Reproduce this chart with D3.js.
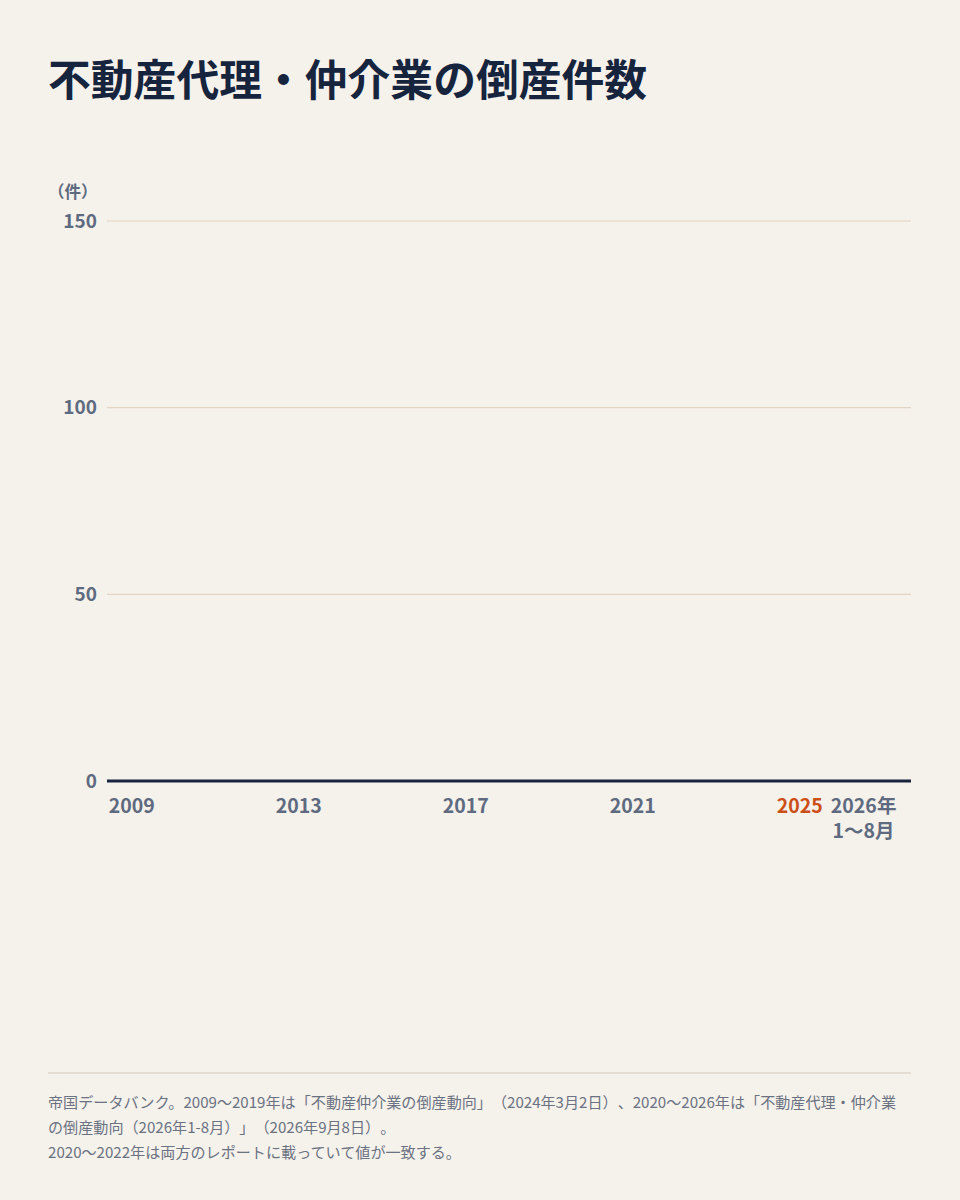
<!DOCTYPE html>
<html lang="ja">
<head>
<meta charset="utf-8">
<script src="https://cdn.jsdelivr.net/npm/d3@7"></script>
<style>
  html, body { margin: 0; padding: 0; background: #f5f1eb; }
  svg { display: block; text-spacing-trim: space-all; }
  text { font-family: "Noto Sans CJK JP", "Noto Sans", sans-serif; text-spacing-trim: space-all; }
</style>
</head>
<body>
<svg id="chart" width="960" height="1200"></svg>
<script>
// ---- data ----
const title = "不動産代理・仲介業の倒産件数";
const unitLabel = "（件）";
const years = ["2009","2010","2011","2012","2013","2014","2015","2016","2017",
               "2018","2019","2020","2021","2022","2023","2024","2025","2026"];
const labeledYears = ["2009","2013","2017","2021","2025","2026"];
const highlightYear = "2025";
const partialYear = "2026";
const partialYearLines = ["2026年", "1〜8月"];
const yTicks = [0, 50, 100, 150];
const yMax = 150;
// No bars are drawn in the reference picture (all values shown are empty).
const counts = [];
const footnoteLines = [
  "帝国データバンク。2009〜2019年は「不動産仲介業の倒産動向」（2024年3月2日）、2020〜2026年は「不動産代理・仲介業",
  "の倒産動向（2026年1-8月）」（2026年9月8日）。",
  "2020〜2022年は両方のレポートに載っていて値が一致する。"
];

// ---- layout ----
const svg = d3.select("#chart");
const W = 960;
const plot = { left: 107, right: 911, top: 221, bottom: 781 };

svg.append("rect").attr("width", W).attr("height", 1200).attr("fill", "#f5f1eb");

svg.append("text")
  .attr("x", 48).attr("y", 96)
  .attr("font-size", 42.8).attr("font-weight", 700)
  .attr("fill", "#16243d")
  .text(title);

const y = d3.scaleLinear().domain([0, yMax]).range([plot.bottom, plot.top]);
const x = d3.scaleBand().domain(years).range([111, 862.5]).paddingInner(0.2).paddingOuter(0.1);
const partialGap = 22;
const xc = d => x(d) + x.bandwidth() / 2 + (d === partialYear ? partialGap : 0);

// y axis labels
const yAxis = d3.axisLeft(y).tickValues(yTicks).tickSize(0).tickPadding(10);
const gy = svg.append("g").attr("transform", `translate(${plot.left},0)`).call(yAxis);
gy.select(".domain").remove();
gy.selectAll("text")
  .attr("x", -10)
  .attr("font-size", 19).attr("font-weight", 700)
  .attr("fill", "#5e6a80")
  .attr("font-family", '"Noto Sans CJK JP", "Noto Sans", sans-serif');

// gridlines
svg.append("g").selectAll("line").data(yTicks.filter(t => t > 0)).join("line")
  .attr("x1", plot.left).attr("x2", plot.right)
  .attr("y1", d => y(d)).attr("y2", d => y(d))
  .attr("stroke", "#e2d5c5").attr("stroke-width", 1.2);

svg.append("text")
  .attr("x", 48).attr("y", 198)
  .attr("font-size", 16.5).attr("font-weight", 700)
  .attr("fill", "#5e6a80")
  .text(unitLabel);

// bars (none present in the reference)
svg.append("g").selectAll("rect").data(counts).join("rect")
  .attr("x", (d, i) => x(years[i]) + (years[i] === partialYear ? partialGap : 0))
  .attr("width", x.bandwidth())
  .attr("y", d => y(d)).attr("height", d => y(0) - y(d))
  .attr("fill", "#16243d");

// baseline
svg.append("line")
  .attr("x1", plot.left).attr("x2", plot.right)
  .attr("y1", y(0)).attr("y2", y(0))
  .attr("stroke", "#16243d").attr("stroke-width", 3);

// x labels
const xg = svg.append("g");
labeledYears.forEach(d => {
  const lines = d === partialYear ? partialYearLines : [d];
  lines.forEach((s, i) => {
    xg.append("text")
      .attr("x", xc(d)).attr("y", 813 + i * 25)
      .attr("text-anchor", "middle")
      .attr("font-size", 19.5).attr("font-weight", 700)
      .attr("fill", d === highlightYear ? "#cc4f17" : "#5e6a80")
      .text(s);
  });
});

// footer rule
svg.append("line")
  .attr("x1", 48).attr("x2", 911).attr("y1", 1073).attr("y2", 1073)
  .attr("stroke", "#ddd6cc").attr("stroke-width", 1.5);

svg.append("g").selectAll("text").data(footnoteLines).join("text")
  .attr("x", 48).attr("y", (d, i) => 1108 + i * 25)
  .attr("font-size", 15.1).attr("fill", "#6b7282")
  .text(d => d);
</script>
</body>
</html>
